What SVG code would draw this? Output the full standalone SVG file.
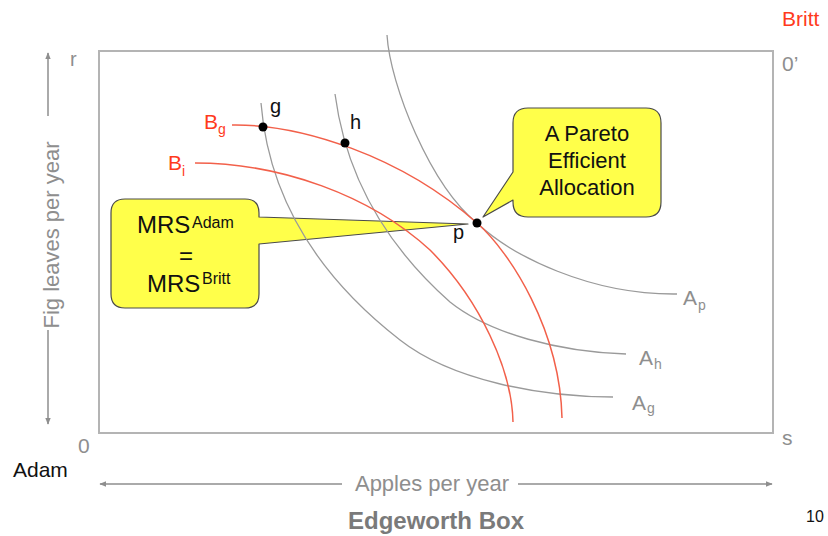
<svg xmlns="http://www.w3.org/2000/svg" width="828" height="536" viewBox="0 0 828 536">
  <defs>
    <style>
      text { font-family: "Liberation Sans", Arial, sans-serif; }
      .gray { fill: #8e8e8e; }
      .red { fill: #ff3a1c; }
      .blk { fill: #111; }
      .axis { stroke: #8e8e8e; stroke-width: 1.5; fill: none; }
      .box { stroke: #b4b4b4; stroke-width: 2; fill: none; }
      .adam { stroke: #9a9a9a; stroke-width: 1.3; fill: none; }
      .britt { stroke: #f2604a; stroke-width: 1.5; fill: none; }
      .callout { fill: #ffff4a; stroke: #4a4a4a; stroke-width: 1.2; stroke-linejoin: round; }
      .co { font-size: 22px; fill: #111; }
    </style>
    <marker id="arr" viewBox="0 0 10 10" refX="9" refY="5" markerWidth="7" markerHeight="7" orient="auto-start-reverse" markerUnits="userSpaceOnUse">
      <path d="M0,1 L10,5 L0,9 Z" fill="#8e8e8e"/>
    </marker>
  </defs>

  <rect width="828" height="536" fill="#fff"/>

  <!-- Edgeworth box frame -->
  <rect id="box" class="box" x="99" y="51" width="674" height="382"/>

  <!-- corner labels -->
  <g id="corners">
    <text class="gray" x="70" y="66" font-size="20">r</text>
    <text class="gray" x="782" y="71" font-size="21">0’</text>
    <text class="gray" x="78" y="453" font-size="21">0</text>
    <text class="gray" x="782" y="445" font-size="21">s</text>
    <text class="red" x="782" y="26" font-size="21">Britt</text>
    <text class="blk" x="13" y="477" font-size="21">Adam</text>
  </g>

  <!-- axes -->
  <g id="axes">
    <line class="axis" x1="48" y1="116" x2="48" y2="53" marker-end="url(#arr)"/>
    <line class="axis" x1="48" y1="330" x2="48" y2="424" marker-end="url(#arr)"/>
    <text class="gray" font-size="22" text-anchor="middle" transform="translate(59,235) rotate(-90)">Fig leaves per year</text>
    <line class="axis" x1="342" y1="484" x2="100" y2="484" marker-end="url(#arr)"/>
    <line class="axis" x1="518" y1="484" x2="772" y2="484" marker-end="url(#arr)"/>
    <text class="gray" font-size="22" text-anchor="middle" x="432" y="491">Apples per year</text>
    <text fill="#7a7a7a" font-size="24" font-weight="bold" text-anchor="middle" x="436" y="529">Edgeworth Box</text>
    <text class="blk" font-size="16" x="806" y="522">10</text>
  </g>

  <!-- callouts -->
  <g id="callout-mrs">
    <path class="callout" d="M125,199 H245 Q259,199 259,213 V217 L468,224 L259,244 V294 Q259,308 245,308 H125 Q111,308 111,294 V213 Q111,199 125,199 Z"/>
    <text class="blk" x="137" y="233" font-size="24">MRS</text>
    <text class="blk" x="192" y="228" font-size="16">Adam</text>
    <text class="blk" x="186" y="264" font-size="24" text-anchor="middle">=</text>
    <text class="blk" x="147" y="292" font-size="24">MRS</text>
    <text class="blk" x="202" y="284" font-size="16">Britt</text>
  </g>

  <g id="callout-pareto">
    <path class="callout" d="M528,108 H646 Q661,108 661,123 V202 Q661,217 646,217 H528 Q513,217 513,202 V200 L483,217 L513,172 V123 Q513,108 528,108 Z"/>
    <text class="co" x="587" y="141" text-anchor="middle">A Pareto</text>
    <text class="co" x="587" y="168" text-anchor="middle">Efficient</text>
    <text class="co" x="587" y="195" text-anchor="middle">Allocation</text>
  </g>

  <!-- indifference curves -->
  <g id="connectors">
    <path id="Ag" class="adam" d="M261,103 C268,190 310,270 400,340 C451,380 540,397 613,397"/>
    <path id="Ah" class="adam" d="M335,94 C345,170 380,240 450,302 C490,334 560,352 626,354"/>
    <path id="Ap" class="adam" d="M387,35 C390,85 430,185 477,223 C512,256 590,295 677,294"/>
    <path id="Bg" class="britt" d="M232,125 C300,124 400,155 477,223 C510,252 560,330 562,418"/>
    <path id="Bi" class="britt" d="M195,163 C280,163 370,195 430,250 C480,300 512,370 513,422"/>
  </g>

  <!-- curve labels -->
  <g id="labels">
    <text class="gray" x="683" y="305" font-size="21">A</text>
    <text class="gray" x="698" y="310" font-size="14">p</text>
    <text class="gray" x="639" y="365" font-size="21">A</text>
    <text class="gray" x="654" y="369" font-size="14">h</text>
    <text class="gray" x="632" y="410" font-size="21">A</text>
    <text class="gray" x="647" y="413" font-size="14">g</text>
    <text class="red" x="204" y="129" font-size="21">B</text>
    <text class="red" x="218" y="134" font-size="14">g</text>
    <text class="red" x="168" y="170" font-size="21">B</text>
    <text class="red" x="182" y="176" font-size="14">i</text>
  </g>

  <!-- allocations -->
  <g id="node-g">
    <circle cx="263" cy="127" r="4.5" fill="#000"/>
    <text class="blk" x="270" y="113" font-size="20">g</text>
  </g>
  <g id="node-h">
    <circle cx="345" cy="143" r="4.5" fill="#000"/>
    <text class="blk" x="350" y="129" font-size="20">h</text>
  </g>
  <g id="node-p">
    <circle cx="477" cy="223" r="4.5" fill="#000"/>
    <text class="blk" x="453" y="239" font-size="20">p</text>
  </g>
</svg>
